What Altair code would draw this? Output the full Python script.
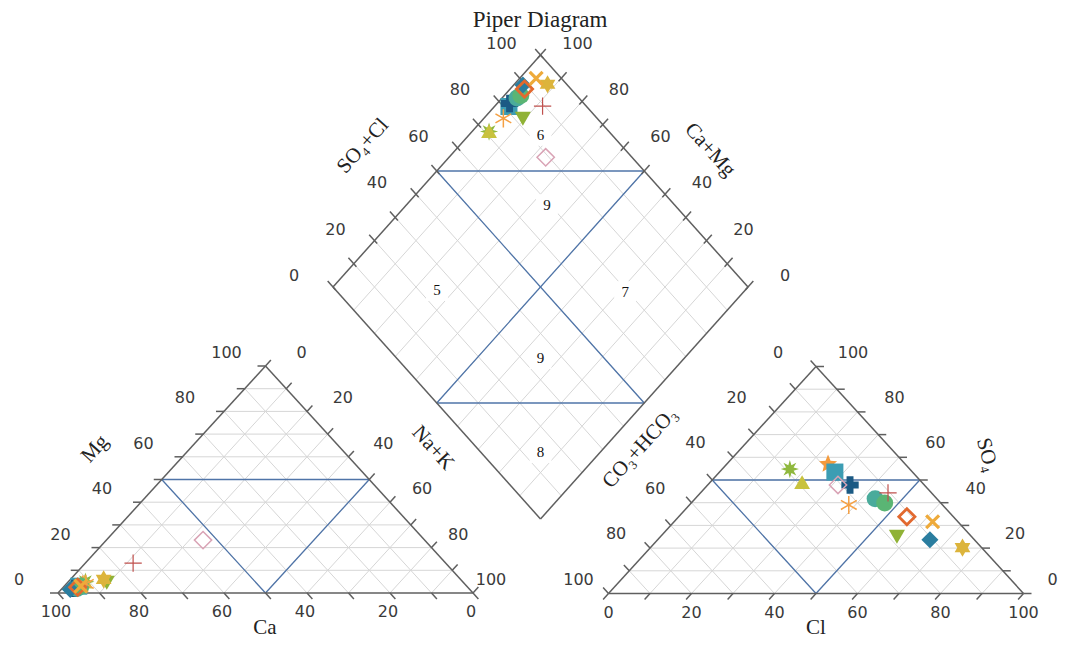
import math
import altair as alt
import pandas as pd

# ---------------- data (percent of meq) ----------------
sample_id = list(range(1, 16))
ca  = [90.9, 92.0, 93.5, 91.0, 53.4, 95.0, 94.4, 93.0, 75.3, 91.3, 94.0, 93.0, 86.0, 96.3, 86.0]
mg  = [5.0, 4.0, 3.0, 5.0, 23.3, 2.0, 2.0, 3.0, 13.2, 4.0, 2.5, 3.0, 4.5, 1.5, 6.0]
na  = [4.1, 4.0, 3.5, 4.0, 23.3, 3.0, 3.6, 4.0, 11.5, 4.7, 3.5, 4.0, 9.5, 2.2, 8.0]
co3 = [28.9, 18.6, 18.7, 28.8, 20.8, 17.9, 14.9, 13.5, 10.5, 22.6, 11.2, 6.1, 18.0, 10.7, 4.6]
so4 = [54.8, 57.0, 53.5, 49.1, 47.8, 47.8, 41.7, 39.9, 44.3, 39.0, 33.8, 31.6, 25.0, 23.7, 20.2]
cl  = [16.3, 24.4, 27.8, 22.1, 31.4, 34.3, 43.4, 46.6, 45.2, 38.4, 55.0, 62.3, 57.0, 65.6, 75.2]

marker = ["burst", "star5", "square", "triangle-up", "diamond", "cross", "circle", "circle",
          "plus", "asterisk", "diamond", "x", "triangle-down", "diamond", "hexagram"]
filled = [True, True, True, True, False, True, True, True,
          False, False, False, False, True, True, True]
colors = ["#8fb83e", "#f39a3c", "#3c9db3", "#c8c23e", "#d9a3b5", "#1b5a84", "#4aab9b", "#5ab574",
          "#c0504d", "#f5a043", "#e2692f", "#eeaa3a", "#90b236", "#2a7d9f", "#dcb43c"]
msize = [330, 360, 290, 250, 300, 300, 290, 290, 300, 330, 260, 260, 260, 290, 330]
mstroke = [1, 1, 1, 1, 1.5, 1, 1, 1, 1.2, 1.5, 2.8, 3.2, 1, 1, 1]

tick_values = [0, 20, 40, 60, 80, 100]
region_labels = ["6", "9", "5", "7", "9", "8"]
region_a = [82.8, 66.1, 74.3, 28.5, 34.7, 14.4]   # Ca+Mg coordinate in diamond
region_b = [82.8, 69.2, 24.4, 69.3, 34.7, 14.4]   # SO4+Cl coordinate in diamond

# ---------------- geometry (page pixels) ----------------
LX0, LY0 = 58.0, 593.0      # cation triangle, bottom-left corner
RX0, RY0 = 608.5, 593.5     # anion triangle, bottom-left corner
S, H = 415.0, 227.0         # triangle base width / height
DX, DY = 540.5, 519.0       # diamond bottom vertex
DW, DH = 207.5, 232.0       # diamond half width / half height

W, HH = 1051, 632


def cat_xy(c, m, n):
    return LX0 + S * (n + m / 2) / 100, LY0 - H * m / 100


def an_xy(c, s, l):
    return RX0 + S * (l + s / 2) / 100, RY0 - H * s / 100


def dia_xy(a, b):
    return DX + DW * (b - a) / 100, DY - DH * (a + b) / 100


def norm(dx, dy):
    d = math.hypot(dx, dy)
    return dx / d, dy / d


grid, blue, frame = [], [], []


def seg(lst, p, q):
    lst.append({"x": p[0], "y": p[1], "x2": q[0], "y2": q[1]})


for k in range(10, 100, 10):
    seg(grid, cat_xy(100 - k, k, 0), cat_xy(0, k, 100 - k))
    seg(grid, cat_xy(k, 100 - k, 0), cat_xy(k, 0, 100 - k))
    seg(grid, cat_xy(0, 100 - k, k), cat_xy(100 - k, 0, k))
    seg(grid, an_xy(100 - k, k, 0), an_xy(0, k, 100 - k))
    seg(grid, an_xy(k, 100 - k, 0), an_xy(k, 0, 100 - k))
    seg(grid, an_xy(0, 100 - k, k), an_xy(100 - k, 0, k))
    seg(grid, dia_xy(k, 0), dia_xy(k, 100))
    seg(grid, dia_xy(0, k), dia_xy(100, k))

# classification lines
seg(blue, cat_xy(50, 50, 0), cat_xy(0, 50, 50))
seg(blue, cat_xy(50, 50, 0), cat_xy(50, 0, 50))
seg(blue, cat_xy(0, 50, 50), cat_xy(50, 0, 50))
seg(blue, an_xy(50, 50, 0), an_xy(0, 50, 50))
seg(blue, an_xy(50, 50, 0), an_xy(50, 0, 50))
seg(blue, an_xy(0, 50, 50), an_xy(50, 0, 50))
seg(blue, dia_xy(100, 50), dia_xy(50, 100))
seg(blue, dia_xy(50, 0), dia_xy(0, 50))
seg(blue, dia_xy(50, 100), dia_xy(50, 0))
seg(blue, dia_xy(100, 50), dia_xy(0, 50))

# frames
for p, q in [(cat_xy(100, 0, 0), cat_xy(0, 0, 100)), (cat_xy(100, 0, 0), cat_xy(0, 100, 0)),
             (cat_xy(0, 100, 0), cat_xy(0, 0, 100)),
             (an_xy(100, 0, 0), an_xy(0, 0, 100)), (an_xy(100, 0, 0), an_xy(0, 100, 0)),
             (an_xy(0, 100, 0), an_xy(0, 0, 100)),
             (dia_xy(0, 0), dia_xy(100, 0)), (dia_xy(100, 0), dia_xy(100, 100)),
             (dia_xy(100, 100), dia_xy(0, 100)), (dia_xy(0, 100), dia_xy(0, 0))]:
    seg(frame, p, q)

# ticks
TL = 8.0
d_dr = norm(S / 2, H)
d_ur = norm(S / 2, -H)
d_dl = norm(-S / 2, H)
d_ul = norm(-S / 2, -H)
dd_ul = norm(-DW, -DH)
dd_ur = norm(DW, -DH)
for k in range(0, 101, 10):
    for p, d, back in [(cat_xy(k, 0, 100 - k), d_dr, 0), (cat_xy(100 - k, k, 0), (-1, 0), 0),
                       (cat_xy(0, 100 - k, k), d_ur, 0),
                       (an_xy(100 - k, 0, k), d_dl, 0), (an_xy(k, 100 - k, 0), d_ul, 0),
                       (an_xy(0, k, 100 - k), (1, 0), 0),
                       (dia_xy(100, k), dd_ul, 4), (dia_xy(k, 100), dd_ur, 4)]:
        seg(frame, (p[0] - d[0] * back, p[1] - d[1] * back), (p[0] + d[0] * TL, p[1] + d[1] * TL))

# tick labels
tl = []


def lab(p, dx, dy, t):
    tl.append({"x": p[0] + dx, "y": p[1] + dy, "t": str(t)})


for k in tick_values:
    lab(cat_xy(k, 0, 100 - k), -2, 19, k)
    lab(cat_xy(100 - k, k, 0), -39, -13, k)
    lab(cat_xy(0, 100 - k, k), 36 - (k / 100) ** 3 * 18, -13, k)
    lab(an_xy(100 - k, 0, k), 0, 19, k)
    lab(an_xy(k, 100 - k, 0), -38 + (k / 100) ** 3 * 8, -14, k)
    lab(an_xy(0, k, 100 - k), 37 - ((100 - k) / 100) ** 3 * 8, -14, k)
    lab(dia_xy(100, k), -39, -11, k)
    lab(dia_xy(k, 100), 37, -11, k)

# axis titles
titles = pd.DataFrame([
    {"x": 265, "y": 628, "t": "Ca", "ang": 0},
    {"x": 816, "y": 628, "t": "Cl", "ang": 0},
    {"x": 95, "y": 449, "t": "Mg", "ang": 312},
    {"x": 433, "y": 448, "t": "Na+K", "ang": 48},
    {"x": 363, "y": 146, "t": "SO\u2084+Cl", "ang": 312},
    {"x": 710, "y": 150, "t": "Ca+Mg", "ang": 48},
    {"x": 640, "y": 448, "t": "CO\u2083+HCO\u2083", "ang": 312},
    {"x": 987, "y": 455, "t": "SO\u2084", "ang": 75},
])
title_df = pd.DataFrame([{"x": 540, "y": 20, "t": "Piper Diagram"}])

reg = []
for t, a, b in zip(region_labels, region_a, region_b):
    x, y = dia_xy(a, b)
    reg.append({"x": x, "y": y, "t": t})
reg_df = pd.DataFrame(reg)


# marker paths
def star(n, rin):
    pts = []
    for i in range(2 * n):
        r = 1.0 if i % 2 == 0 else rin
        ang = math.radians(-90 + i * 180 / n)
        pts.append(f"{r * math.cos(ang):.3f},{r * math.sin(ang):.3f}")
    return "M" + "L".join(pts) + "Z"


paths = {
    "burst": star(8, 0.45),
    "star5": star(5, 0.45),
    "hexagram": star(6, 0.58),
    "asterisk": "M0,-1L0,1M-0.87,-0.5L0.87,0.5M-0.87,0.5L0.87,-0.5",
    "plus": "M0,-1L0,1M-1,0L1,0",
    "x": "M-0.8,-0.8L0.8,0.8M-0.8,0.8L0.8,-0.8",
}

pts = []
for i in range(len(sample_id)):
    shp = paths.get(marker[i], marker[i])
    for (x, y) in [cat_xy(ca[i], mg[i], na[i]), an_xy(co3[i], so4[i], cl[i]),
                   dia_xy(ca[i] + mg[i], so4[i] + cl[i])]:
        pts.append({"x": x, "y": y, "shape": shp, "color": colors[i], "filled": filled[i],
                    "size": msize[i], "sw": mstroke[i], "order": i})
pts_df = pd.DataFrame(pts)

# ---------------- chart ----------------
X = alt.X("x:Q", scale=alt.Scale(domain=[8, 8 + W], nice=False, zero=False), axis=None)
Y = alt.Y("y:Q", scale=alt.Scale(domain=[8, 8 + HH], nice=False, zero=False, reverse=True), axis=None)


def rules(data, color, width):
    return alt.Chart(pd.DataFrame(data)).mark_rule(color=color, strokeWidth=width).encode(
        x=X, y=Y, x2="x2:Q", y2="y2:Q")


grid_l = rules(grid, "#d6d6d6", 1)
blue_l = rules(blue, "#4f74a8", 1.3)
frame_l = rules(frame, "#5f5f5f", 1.5)

boxes = alt.Chart(reg_df).mark_square(color="white", size=480, opacity=1).encode(x=X, y=Y)
reg_text = alt.Chart(reg_df).mark_text(font="Liberation Serif", fontSize=15, color="#111",
                                        baseline="middle").encode(x=X, y=Y, text="t:N")
tick_text = alt.Chart(pd.DataFrame(tl)).mark_text(font="DejaVu Sans", fontSize=16, color="#3a3a3a",
                                                   baseline="middle").encode(x=X, y=Y, text="t:N")
axis_text = alt.Chart(titles).mark_text(font="Liberation Serif", fontSize=21, color="#222",
                                        baseline="middle").encode(
    x=X, y=Y, text="t:N", angle=alt.Angle("ang:Q", scale=None))
title_text = alt.Chart(title_df).mark_text(font="Liberation Serif", fontSize=23, color="#222",
                                           baseline="middle").encode(x=X, y=Y, text="t:N")

enc = dict(x=X, y=Y,
           shape=alt.Shape("shape:N", scale=None, legend=None),
           color=alt.Color("color:N", scale=None, legend=None),
           size=alt.Size("size:Q", scale=None, legend=None),
           order=alt.Order("order:Q"))
filled_pts = alt.Chart(pts_df[pts_df["filled"]]).mark_point(filled=True, opacity=1).encode(**enc)
open_pts = alt.Chart(pts_df[~pts_df["filled"]]).mark_point(filled=False, opacity=1).encode(
    strokeWidth=alt.StrokeWidth("sw:Q", scale=None, legend=None), **enc)

chart = alt.layer(grid_l, blue_l, frame_l, boxes, reg_text, tick_text, axis_text, title_text,
                  filled_pts, open_pts).properties(
    width=W, height=HH, padding=0, autosize=alt.AutoSizeParams(type="none")
).configure_view(stroke=None)

chart.save("out.html", embed_options={"renderer": "svg", "actions": False})
